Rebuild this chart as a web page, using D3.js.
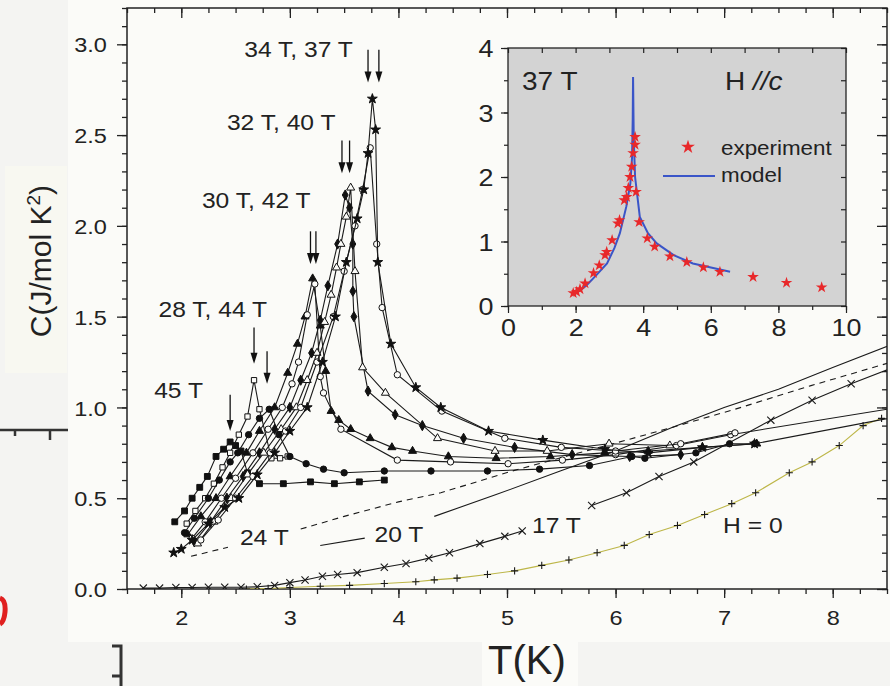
<!DOCTYPE html>
<html>
<head>
<meta charset="utf-8">
<script src="https://cdn.jsdelivr.net/npm/d3@7"></script>
<style>
body { margin: 0; background: #f4f4f2; }
text { font-family: "Liberation Sans", Arial, sans-serif; fill: #222; }
</style>
</head>
<body>
<svg id="chart" width="890" height="686"></svg>
<script>
const h45 = [[1.94,0.37],[2.03,0.43],[2.1,0.50],[2.17,0.56],[2.24,0.62],[2.32,0.73],[2.39,0.77],[2.45,0.81],[2.5,0.79],[2.55,0.76],[2.61,0.64],[2.72,0.58],[2.94,0.58],[3.19,0.59],[3.41,0.58],[3.64,0.59],[3.87,0.60]]
const h44 = [[2.05,0.36],[2.13,0.43],[2.22,0.5],[2.3,0.58],[2.38,0.67],[2.45,0.75],[2.53,0.85],[2.61,0.95],[2.67,1.15],[2.72,0.99],[2.83,0.72],[2.91,0.72],[2.98,0.73]]
const h28 = [[2.03,0.31],[2.12,0.39],[2.25,0.5],[2.35,0.6],[2.45,0.7],[2.52,0.75],[2.62,0.85],[2.72,0.94],[2.81,0.99],[2.9,0.85],[3.0,0.73],[3.15,0.69],[3.31,0.66],[3.5,0.64],[3.87,0.65],[4.3,0.65],[4.82,0.65],[5.3,0.66],[5.76,0.68],[6.15,0.73],[6.27,0.72],[6.74,0.75],[7.05,0.80],[7.28,0.80],[8.6,0.95]]
const h30 = [[2.06,0.30],[2.18,0.4],[2.32,0.5],[2.45,0.62],[2.6,0.75],[2.72,0.87],[2.86,1.0],[2.98,1.19],[3.07,1.35],[3.14,1.5],[3.21,1.71],[3.28,1.45],[3.33,1.2],[3.38,0.98],[3.45,0.93],[3.56,0.88],[3.74,0.83],[3.94,0.78],[4.13,0.76],[4.46,0.73],[4.9,0.72],[5.4,0.73],[5.9,0.75],[6.3,0.76],[6.8,0.78],[7.3,0.80]]
const h42 = [[2.1,0.28],[2.22,0.37],[2.37,0.5],[2.5,0.61],[2.66,0.75],[2.8,0.88],[2.93,1.0],[3.02,1.13],[3.08,1.25],[3.16,1.51],[3.23,1.68],[3.28,1.17],[3.31,1.08],[3.47,0.88],[3.99,0.71],[4.48,0.70],[5.01,0.69],[5.51,0.71],[6.0,0.74],[6.56,0.79],[7.06,0.85],[8.6,1.0]]
const h40 = [[2.12,0.26],[2.27,0.37],[2.42,0.5],[2.57,0.62],[2.72,0.75],[2.86,0.88],[3.0,1.0],[3.1,1.15],[3.2,1.3],[3.28,1.48],[3.35,1.67],[3.44,1.9],[3.51,2.17],[3.55,2.1],[3.58,1.90],[3.58,1.64],[3.59,1.50],[3.72,1.09],[3.97,0.96],[4.22,0.90],[4.6,0.83],[5.07,0.78],[5.6,0.74],[6.13,0.73],[6.6,0.74]]
const h32 = [[2.15,0.25],[2.3,0.37],[2.46,0.5],[2.61,0.63],[2.76,0.75],[2.92,0.88],[3.06,1.0],[3.16,1.15],[3.25,1.3],[3.32,1.47],[3.38,1.62],[3.43,1.77],[3.47,1.9],[3.52,2.05],[3.56,2.21],[3.6,1.75],[3.67,1.22],[3.88,1.08],[4.36,0.83],[4.89,0.76],[5.37,0.76],[5.94,0.80],[6.5,0.79]]
const h34 = [[2.18,0.27],[2.34,0.38],[2.5,0.5],[2.66,0.62],[2.82,0.75],[2.96,0.87],[3.1,1.0],[3.25,1.25],[3.4,1.5],[3.5,1.75],[3.6,2.0],[3.67,2.2],[3.74,2.43],[3.8,1.9],[3.85,1.55],[3.99,1.18],[4.4,0.98],[4.98,0.83],[5.5,0.78],[6.0,0.76],[6.6,0.8],[7.1,0.86]]
const h37 = [[1.93,0.20],[2.0,0.22],[2.1,0.27],[2.25,0.36],[2.4,0.45],[2.53,0.5],[2.7,0.63],[2.86,0.75],[3.0,0.87],[3.16,1.0],[3.3,1.25],[3.42,1.5],[3.52,1.8],[3.62,2.04],[3.68,2.2],[3.72,2.40],[3.76,2.70],[3.79,2.53],[3.81,1.80],[3.93,1.35],[4.16,1.11],[4.39,1.0],[4.83,0.87],[5.33,0.82],[5.9,0.77],[6.3,0.75],[6.8,0.78],[7.28,0.80]]
const h24 = [[2.09,0.18],[2.43,0.23],null,[3.1,0.33],[3.5,0.40],[4.0,0.48],[4.39,0.53],[5.05,0.65],[5.6,0.74],[6.1,0.82],[6.52,0.89],[7.1,0.99],[7.8,1.12],[8.6,1.26]]
const h20 = [[3.28,0.24],[3.69,0.28],null,[4.33,0.40],[4.9,0.52],[5.49,0.65],[6.0,0.76],[6.52,0.89],[7.0,1.0],[7.5,1.10],[8.0,1.22],[8.6,1.36]]
const h17 = [[1.65,0.005],[1.8,0.005],[1.95,0.008],[2.1,0.008],[2.25,0.01],[2.4,0.01],[2.55,0.01],[2.7,0.012],[2.86,0.02],[3.0,0.035],[3.14,0.05],[3.3,0.07],[3.44,0.08],[3.62,0.09],[3.87,0.12],[4.07,0.14],[4.28,0.17],[4.47,0.20],[4.75,0.25],[4.98,0.29],[5.14,0.32],null,[5.78,0.46],[6.1,0.53],[6.4,0.62],[6.72,0.70],[7.43,0.93],[7.81,1.04],[8.17,1.13],[8.6,1.23]]
const h0 = [[2.6,0.0],[2.8,0.003],[3.0,0.008],[3.28,0.015],[3.55,0.02],[3.87,0.03],[4.16,0.04],[4.33,0.05],[4.54,0.06],[4.82,0.08],[5.07,0.10],[5.32,0.13],[5.57,0.16],[5.83,0.20],[6.08,0.24],[6.31,0.30],[6.57,0.35],[6.82,0.41],[7.07,0.47],[7.29,0.53],[7.6,0.64],[7.81,0.70],[8.06,0.79],[8.28,0.90],[8.45,0.94]]

// inset (37 T)
const insetExp = [[1.93,0.20],[2.03,0.22],[2.13,0.26],[2.28,0.35],[2.53,0.51],[2.7,0.63],[2.87,0.79],[2.92,0.84],[3.08,1.02],[3.25,1.28],[3.3,1.33],[3.44,1.64],[3.51,1.69],[3.56,1.83],[3.61,2.0],[3.66,2.16],[3.7,2.37],[3.76,2.62],[3.76,2.5],[3.79,1.77],[3.88,1.3],[4.12,1.05],[4.34,0.92],[4.79,0.77],[5.29,0.68],[5.78,0.60],[6.27,0.53],[7.25,0.45],[8.24,0.36],[9.28,0.29]]
const insetModel = [[1.98,0.2],[2.15,0.25],[2.34,0.33],[2.6,0.47],[2.93,0.66],[3.15,0.9],[3.31,1.13],[3.5,1.54],[3.62,1.9],[3.67,2.3],[3.69,2.9],[3.70,3.55],[3.72,2.6],[3.76,2.0],[3.9,1.38],[4.14,1.13],[4.4,0.97],[4.9,0.79],[5.47,0.66],[6.07,0.59],[6.57,0.53]]

// field labels and arrows
const fieldLabels = ["34 T, 37 T","32 T, 40 T","30 T, 42 T","28 T, 44 T","45 T","24 T","20 T","17 T","H = 0"]
const labelAt = [[2.58,2.93],[2.42,2.53],[2.19,2.10],[1.79,1.50],[1.75,1.05],[2.54,0.24],[3.78,0.26],[5.23,0.31],[6.99,0.31]]
const arrowT = [3.72,3.82,3.48,3.55,3.19,3.24,2.67,2.79,2.45]
const arrowTop = [2.97,2.97,2.47,2.47,1.97,1.97,1.44,1.31,1.07]
const arrowTip = [2.79,2.79,2.29,2.29,1.79,1.79,1.24,1.13,0.87]

const svg = d3.select('#chart')

// collage background pieces
svg.append('rect').attr('x', 68).attr('y', 0).attr('width', 822).attr('height', 642).attr('fill', '#fbfbf8')
svg.append('rect').attr('x', 5).attr('y', 166).attr('width', 62).attr('height', 207).attr('fill', '#f8f8f1')
svg.append('rect').attr('x', 482).attr('y', 642).attr('width', 96).attr('height', 44).attr('fill', '#fbfbf8')
svg.append('path').attr('d', 'M0,430H68M15,430V436M50,430V440').attr('stroke', '#333').attr('stroke-width', 2.5).attr('fill', 'none')
svg.append('path').attr('d', 'M0,598Q6,600 5,612Q4,622 0,624').attr('stroke', '#e02020').attr('stroke-width', 5).attr('fill', 'none')
svg.append('path').attr('d', 'M112,646H121V686M112,676H121').attr('stroke', '#333').attr('stroke-width', 3).attr('fill', 'none')

const x = d3.scaleLinear().domain([1.5, 8.5]).range([127, 887])
const y = d3.scaleLinear().domain([0, 3.2]).range([589, 8])

svg.append('clipPath').attr('id', 'clipMain')
.append('rect').attr('x', 127).attr('y', 8).attr('width', 760).attr('height', 581)

const stretch = 'scale(1.12,1)'

// axes
const axisStyle = g => {
	g.select('.domain').remove()
	g.selectAll('line').attr('stroke', '#222').attr('stroke-width', 1.3)
	g.selectAll('text').attr('font-size', 21).attr('fill', '#222')
}
const yMajor = d3.range(0, 3.01, 0.5)
const yMinor = d3.range(0, 3.21, 0.1)
const xMajor = d3.range(2, 8.01, 1)
const xMinor = d3.range(1.5, 8.51, 0.25)

svg.append('g').attr('transform', 'translate(127,0)')
.call(d3.axisLeft(y).tickValues(yMinor).tickSize(5).tickFormat(''))
.call(axisStyle)
svg.append('g').attr('transform', 'translate(127,0)')
.call(d3.axisLeft(y).tickValues(yMajor).tickSize(10).tickPadding(8).tickFormat(d3.format('.1f')))
.call(axisStyle)
.selectAll('text').attr('dy', '0.36em')

svg.append('g').attr('transform', 'translate(887,0)')
.call(d3.axisRight(y).tickValues(yMinor).tickSize(-5).tickFormat(''))
.call(axisStyle)
svg.append('g').attr('transform', 'translate(887,0)')
.call(d3.axisRight(y).tickValues(yMajor).tickSize(-10).tickFormat(''))
.call(axisStyle)

svg.append('g').attr('transform', 'translate(0,589)')
.call(d3.axisBottom(x).tickValues(xMinor).tickSize(5).tickFormat(''))
.call(axisStyle)
svg.append('g').attr('transform', 'translate(0,589)')
.call(d3.axisBottom(x).tickValues(xMajor).tickSize(9).tickPadding(12).tickFormat(d3.format('d')))
.call(axisStyle)

svg.append('g').attr('transform', 'translate(0,8)')
.call(d3.axisTop(x).tickValues(xMinor).tickSize(-5).tickFormat(''))
.call(axisStyle)
svg.append('g').attr('transform', 'translate(0,8)')
.call(d3.axisTop(x).tickValues(xMajor).tickSize(-10).tickFormat(''))
.call(axisStyle)

// stretch tick labels a little, like the original print
svg.selectAll('g.tick text').attr('transform', stretch)

// frame
svg.append('rect').attr('x', 127).attr('y', 8).attr('width', 760).attr('height', 581)
.attr('fill', 'none').attr('stroke', '#222').attr('stroke-width', 1.5)

// axis titles
let yTitle = svg.append('text').attr('transform', 'translate(51,261) rotate(-90)')
.attr('text-anchor', 'middle').attr('font-size', 30)
yTitle.append('tspan').text('C(J/mol K')
yTitle.append('tspan').attr('font-size', 19).attr('dy', -11).text('2')
yTitle.append('tspan').attr('dy', 11).text(')')

svg.append('text').attr('x', 527).attr('y', 674).attr('text-anchor', 'middle')
.attr('font-size', 40).text('T(K)')

// ---- curves ----
const plot = svg.append('g').attr('clip-path', 'url(#clipMain)')

const line = d3.line()
.defined(d => d)
.x(d => x(d[0]))
.y(d => y(d[1]))

const symPath = (type, size) => d3.symbol().type(type).size(size)()

const series = [
	{ data: h0, marker: 'plus', color: '#bdb648' },
	{ data: h17, marker: 'cross' },
	{ data: h20, marker: null },
	{ data: h24, marker: null, dash: '6,5' },
	{ data: h45, marker: d3.symbolSquare, fill: true, size: 34 },
	{ data: h44, marker: d3.symbolSquare, fill: false, size: 28 },
	{ data: h28, marker: d3.symbolCircle, fill: true, size: 32 },
	{ data: h30, marker: d3.symbolTriangle, fill: true, size: 28 },
	{ data: h42, marker: d3.symbolCircle, fill: false, size: 32 },
	{ data: h40, marker: d3.symbolDiamond, fill: true, size: 30 },
	{ data: h32, marker: d3.symbolTriangle, fill: false, size: 28 },
	{ data: h34, marker: d3.symbolCircle, fill: false, size: 32 },
	{ data: h37, marker: d3.symbolStar, fill: true, size: 30 }
]

series.forEach(s => {
	plot.append('path')
	.datum(s.data)
	.attr('d', line)
	.attr('fill', 'none')
	.attr('stroke', s.color || '#1a1a1a')
	.attr('stroke-width', 1.1)
	.attr('stroke-dasharray', s.dash || null)

	if (!s.marker) return

	let pts = s.data.filter(d => d)

	if (s.marker === 'plus' || s.marker === 'cross') {
		let r = 3.6
		let p = s.marker === 'plus'
		? `M${-r},0H${r}M0,${-r}V${r}`
		: `M${-r},${-r}L${r},${r}M${-r},${r}L${r},${-r}`
		plot.selectAll(null)
		.data(pts)
		.enter()
		.append('path')
		.attr('transform', d => `translate(${x(d[0])},${y(d[1])})`)
		.attr('d', p)
		.attr('stroke', '#1a1a1a')
		.attr('stroke-width', 1.1)
		.attr('fill', 'none')
		return
	}

	plot.selectAll(null)
	.data(pts)
	.enter()
	.append('path')
	.attr('transform', d => `translate(${x(d[0])},${y(d[1])})`)
	.attr('d', symPath(s.marker, s.size))
	.attr('fill', s.fill ? '#111' : '#fbfbf8')
	.attr('stroke', '#111')
	.attr('stroke-width', 1)
})

// field labels
fieldLabels.forEach((t, i) => {
	svg.append('text')
	.attr('transform', `translate(${x(labelAt[i][0])},${y(labelAt[i][1])}) ${stretch}`)
	.attr('font-size', 22)
	.text(t)
})

// arrows
arrowT.forEach((t, i) => {
	let ax = x(t)
	let top = y(arrowTop[i])
	let tip = y(arrowTip[i])
	svg.append('line')
	.attr('x1', ax).attr('x2', ax)
	.attr('y1', top).attr('y2', tip - 6)
	.attr('stroke', '#111').attr('stroke-width', 1.3)
	svg.append('path')
	.attr('d', `M${ax - 3.5},${tip - 11}L${ax + 3.5},${tip - 11}L${ax},${tip}Z`)
	.attr('fill', '#111')
})

// ---- inset ----
const ix = d3.scaleLinear().domain([0, 10]).range([508, 846])
const iy = d3.scaleLinear().domain([0, 4]).range([306, 48])

svg.append('rect').attr('x', 508).attr('y', 48).attr('width', 338).attr('height', 258)
.attr('fill', '#d3d3d3')

const insetAxis = g => {
	g.select('.domain').remove()
	g.selectAll('line').attr('stroke', '#222').attr('stroke-width', 1.2)
	g.selectAll('text').attr('font-size', 24).attr('fill', '#222')
}

svg.append('g').attr('transform', 'translate(508,0)')
.call(d3.axisLeft(iy).tickValues(d3.range(0, 4.01, 0.5)).tickSize(4).tickFormat(''))
.call(insetAxis)
svg.append('g').attr('transform', 'translate(508,0)')
.call(d3.axisLeft(iy).tickValues(d3.range(0, 5, 1)).tickSize(7).tickPadding(6).tickFormat(d3.format('d')))
.call(insetAxis)
.selectAll('text').attr('transform', stretch).attr('dy', '0.36em')

svg.append('g').attr('transform', 'translate(846,0)')
.call(d3.axisRight(iy).tickValues(d3.range(0, 4.01, 0.5)).tickSize(-5).tickFormat(''))
.call(insetAxis)

svg.append('g').attr('transform', 'translate(0,306)')
.call(d3.axisBottom(ix).tickValues(d3.range(0, 10.01, 1)).tickSize(4).tickFormat(''))
.call(insetAxis)
svg.append('g').attr('transform', 'translate(0,306)')
.call(d3.axisBottom(ix).tickValues(d3.range(0, 10.01, 2)).tickSize(7).tickPadding(6).tickFormat(d3.format('d')))
.call(insetAxis)
.selectAll('text').attr('transform', stretch)

svg.append('g').attr('transform', 'translate(0,48)')
.call(d3.axisTop(ix).tickValues(d3.range(0, 10.01, 1)).tickSize(-5).tickFormat(''))
.call(insetAxis)

svg.append('rect').attr('x', 508).attr('y', 48).attr('width', 338).attr('height', 258)
.attr('fill', 'none').attr('stroke', '#222').attr('stroke-width', 1.3)

const iline = d3.line()
.x(d => ix(d[0]))
.y(d => iy(d[1]))

svg.append('path')
.datum(insetModel)
.attr('d', iline)
.attr('fill', 'none')
.attr('stroke', '#3a55c8')
.attr('stroke-width', 2)

svg.selectAll('.expStar')
.data(insetExp)
.enter()
.append('path')
.attr('class', 'expStar')
.attr('transform', d => `translate(${ix(d[0])},${iy(d[1])})`)
.attr('d', symPath(d3.symbolStar, 42))
.attr('fill', '#e8282a')

// inset texts
svg.append('text').attr('transform', `translate(522,90) ${stretch}`).attr('font-size', 25).text('37 T')
let hc = svg.append('text').attr('transform', `translate(725,90) ${stretch}`).attr('font-size', 25)
hc.append('tspan').text('H ')
hc.append('tspan').attr('font-style', 'italic').text('//c')

// legend
svg.append('path')
.attr('transform', 'translate(688,147)')
.attr('d', symPath(d3.symbolStar, 60))
.attr('fill', '#e8282a')
svg.append('text').attr('transform', `translate(721,155) ${stretch}`).attr('font-size', 20).text('experiment')
svg.append('line').attr('x1', 663).attr('x2', 715).attr('y1', 176).attr('y2', 176)
.attr('stroke', '#3a55c8').attr('stroke-width', 2)
svg.append('text').attr('transform', `translate(721,182) ${stretch}`).attr('font-size', 20).text('model')
</script>
</body>
</html>
